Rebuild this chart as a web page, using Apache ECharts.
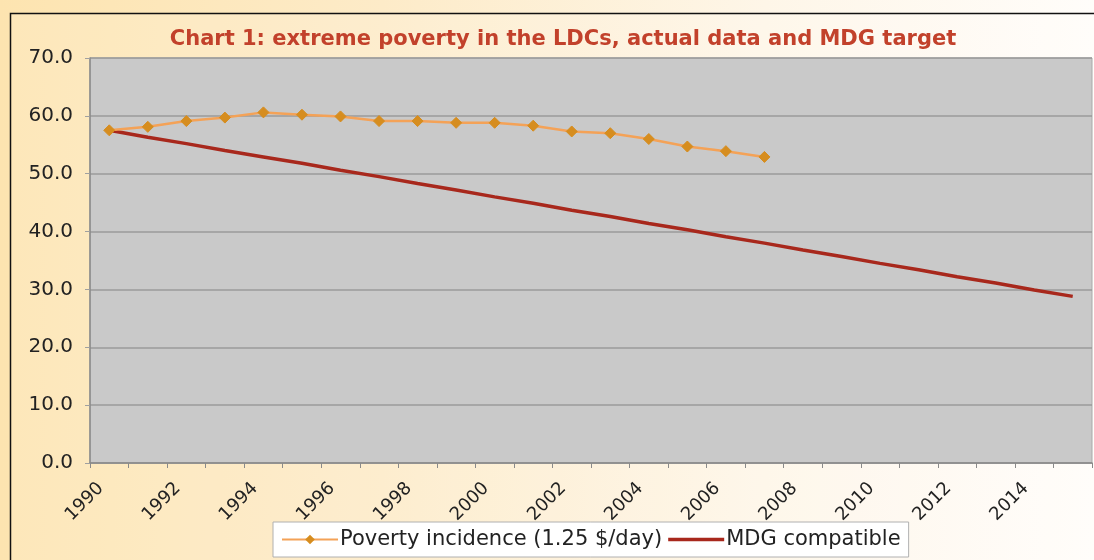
<!DOCTYPE html>
<html>
<head>
<meta charset="utf-8">
<script src="https://cdn.jsdelivr.net/npm/echarts@6/dist/echarts.min.js"></script>
<style>
html,body{margin:0;padding:0;}
#chart{width:1094px;height:560px;background:linear-gradient(90deg,#fde4b0 0%,#fdebc8 35%,#fef6e8 70%,#fffdfa 100%);}
</style>
</head>
<body>
<div id="chart"></div>
<script>
var years = ['1990','1991','1992','1993','1994','1995','1996','1997','1998','1999','2000','2001','2002','2003','2004','2005','2006','2007','2008','2009','2010','2011','2012','2013','2014','2015'];
var povertyIncidence = [57.5,58.1,59.1,59.7,60.6,60.2,59.9,59.1,59.1,58.8,58.8,58.3,57.3,57.0,56.0,54.7,53.9,52.9];
var mdgCompatible = [57.5,56.3,55.2,54.0,52.9,51.8,50.6,49.5,48.3,47.2,46.0,44.9,43.7,42.6,41.4,40.3,39.1,38.0,36.8,35.7,34.5,33.4,32.2,31.1,29.9,28.8];
var yTicks = {min:0, max:70, interval:10};
var titleText = 'Chart 1: extreme poverty in the LDCs, actual data and MDG target';
var seriesNames = ['Poverty incidence (1.25 $/day)','MDG compatible'];

var FONT = 'DejaVu Sans, Verdana, sans-serif';
var chart = echarts.init(document.getElementById('chart'), null, {renderer:'canvas'});
chart.setOption({
  animation:false,
  textStyle:{fontFamily:FONT},
  graphic:[
    {type:'rect', shape:{x:10.5,y:13.5,width:1100,height:560}, style:{fill:'rgba(255,255,255,0.12)',stroke:'#111',lineWidth:1.5}, z:-10}
  ],
  title:{
    text:titleText, left:558, textAlign:'center', top:24,
    textStyle:{color:'#c2412b',fontSize:21,fontWeight:'bold',fontFamily:FONT}
  },
  legend:{
    left:273, top:522,
    backgroundColor:'#ffffff', borderColor:'#b0b0b0', borderWidth:1,
    padding:[7,8,7,8], itemGap:6, itemWidth:56, itemHeight:12,
    textStyle:{fontSize:21,color:'#222',fontFamily:FONT,padding:[0,0,0,-3]},
    data:[
      {name:seriesNames[0]},
      {name:seriesNames[1], icon:'path://M0,0 L56,0 L56,3.5 L0,3.5 Z'}
    ]
  },
  grid:{left:90,right:2,top:58,bottom:97,show:true,backgroundColor:'#c9c9c9',borderColor:'#a8a8a8',borderWidth:1},
  xAxis:{
    type:'category', data:years, boundaryGap:true,
    axisLine:{lineStyle:{color:'#8a8a8a',width:1.5}},
    axisTick:{show:true,alignWithLabel:false,length:5,interval:0,lineStyle:{color:'#8a8a8a'}},
    axisLabel:{interval:1,rotate:45,fontSize:18,color:'#222',margin:14,padding:[0,12,0,0],fontFamily:FONT},
    splitLine:{show:false}
  },
  yAxis:{
    type:'value', min:yTicks.min, max:yTicks.max, interval:yTicks.interval,
    axisLine:{show:true,lineStyle:{color:'#8a8a8a',width:1.5}},
    axisTick:{show:true,length:5,lineStyle:{color:'#a0a0a0'}},
    axisLabel:{fontSize:20,color:'#222',margin:17,fontFamily:FONT,formatter:function(v){return v.toFixed(1);}},
    splitLine:{lineStyle:{color:'#9a9a9a',width:1.5}}
  },
  series:[
    {
      name:seriesNames[0], type:'line', data:povertyIncidence,
      symbol:'diamond', symbolSize:11, showAllSymbol:true,
      lineStyle:{color:'#f4a257',width:2.5},
      itemStyle:{color:'#d68d1f',borderColor:'#d68d1f'},
      z:3
    },
    {
      name:seriesNames[1], type:'line', data:mdgCompatible,
      symbol:'none',
      lineStyle:{color:'#a8281c',width:3.5},
      itemStyle:{color:'#a8281c'},
      z:2
    }
  ]
});
</script>
</body>
</html>
